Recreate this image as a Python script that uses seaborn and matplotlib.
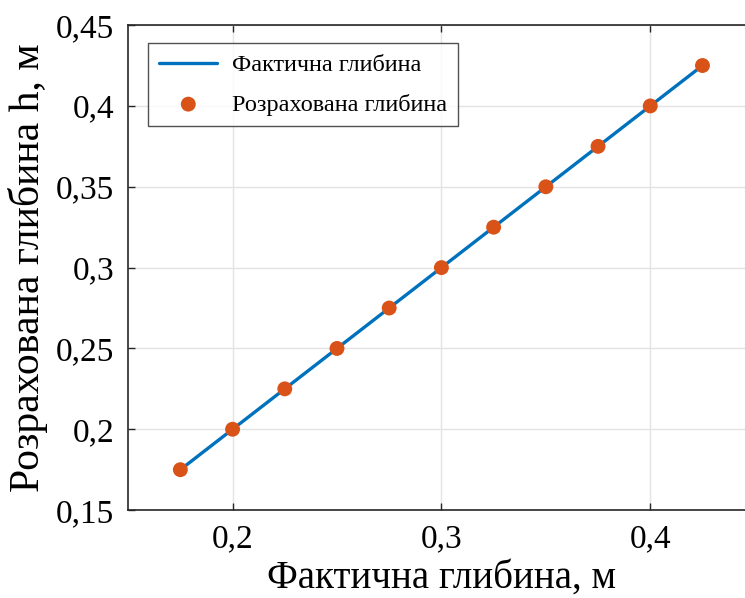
import matplotlib
matplotlib.use("Agg")
import matplotlib.pyplot as plt
import seaborn as sns
import pandas as pd
from matplotlib.ticker import FuncFormatter, MultipleLocator

# --- дані ---
actual_depth = [0.175, 0.200, 0.225, 0.250, 0.275, 0.300, 0.325, 0.350, 0.375, 0.400, 0.425]
calc_depth = [0.175, 0.200, 0.225, 0.250, 0.275, 0.300, 0.325, 0.350, 0.375, 0.400, 0.425]

line_label = "Фактична глибина"
point_label = "Розрахована глибина"
x_title = "Фактична глибина, м"
y_title = "Розрахована глибина h, м"

df = pd.DataFrame({"actual": actual_depth, "calc": calc_depth})

sns.set_style("whitegrid")
plt.rcParams["font.family"] = ["Liberation Serif", "DejaVu Serif"]
plt.rcParams["text.color"] = "black"

fig = plt.figure(figsize=(7.45, 5.98), dpi=100)
ax = fig.add_axes([0.172, 0.147, 0.841, 0.811])

sns.lineplot(data=df, x="actual", y="calc", ax=ax, color="#0072BD", linewidth=2.4,
             label=line_label)
sns.scatterplot(data=df, x="actual", y="calc", ax=ax, color="#D95319", s=115,
                edgecolor="none", label=point_label, zorder=3)

ax.set_xlim(0.15, 0.45)
ax.set_ylim(0.15, 0.45)
ax.xaxis.set_major_locator(MultipleLocator(0.1))
ax.yaxis.set_major_locator(MultipleLocator(0.05))

comma = FuncFormatter(lambda v, p: f"{v:.2f}".rstrip("0").replace(".", ","))
ax.xaxis.set_major_formatter(comma)
ax.yaxis.set_major_formatter(comma)

ax.grid(True, color="#e3e3e3", linewidth=1.0)
for side in ["left", "bottom", "top"]:
    ax.spines[side].set_color("#262626")
    ax.spines[side].set_linewidth(1.2)
ax.spines["right"].set_visible(False)

ax.tick_params(axis="both", direction="in", length=5, width=1, color="#262626",
               labelcolor="black", labelsize=24, top=True, left=True, bottom=True, pad=10)

ax.set_xlabel(x_title, fontsize=28, labelpad=4, color="black")
ax.set_ylabel(y_title, fontsize=30, labelpad=6, color="black")

leg = ax.legend(loc="upper left", bbox_to_anchor=(0.032, 0.963), borderaxespad=0,
                fontsize=17.5, frameon=True, fancybox=False, edgecolor="#262626",
                borderpad=0.45, labelspacing=0.72, handlelength=2.4, handletextpad=0.6)
leg.get_frame().set_linewidth(1.0)
for t in leg.get_texts():
    t.set_color("black")

fig.savefig("out.png", dpi=100)
